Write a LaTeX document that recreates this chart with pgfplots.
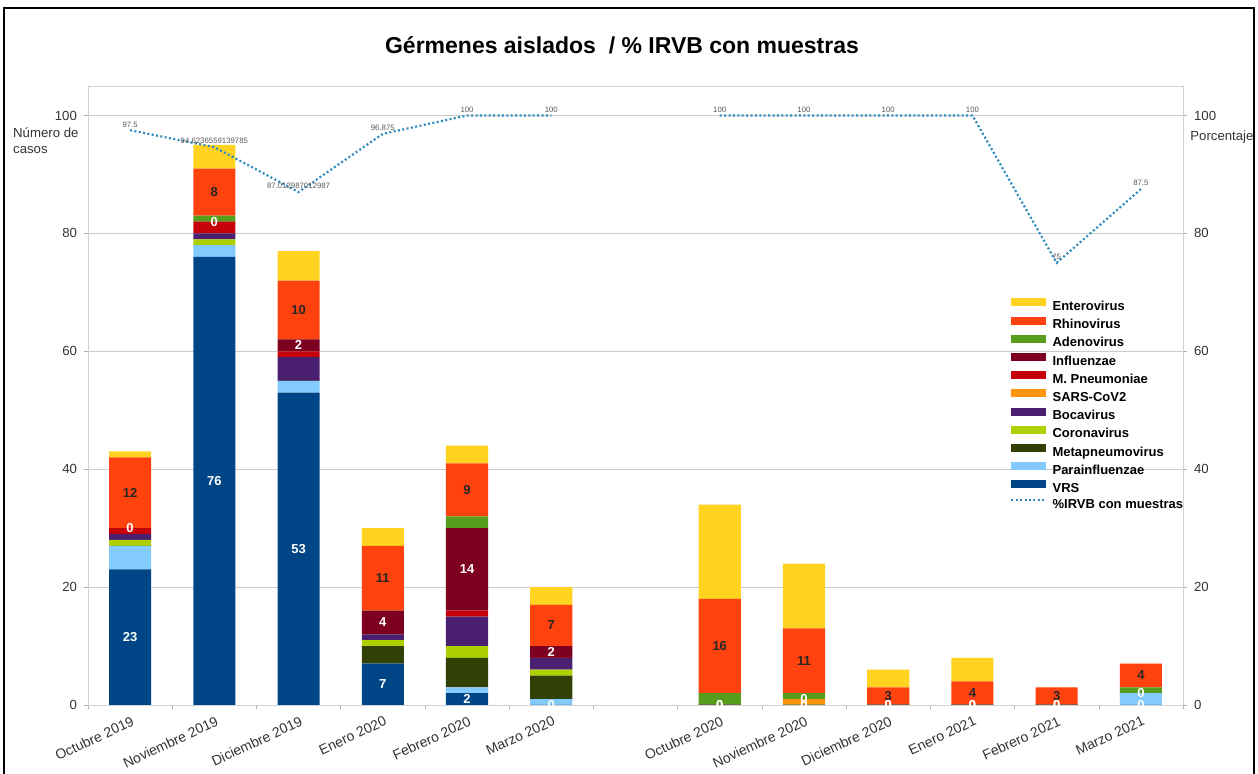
\documentclass[border=0pt]{standalone}
\usepackage{fontspec}
\setmainfont{Liberation Sans}
\usepackage{pgfplots}
\usepackage{pgfplotstable}
\pgfplotsset{compat=1.18}

% LibreOffice default palette
\definecolor{cVRS}{HTML}{004586}
\definecolor{cPara}{HTML}{83CAFF}
\definecolor{cMeta}{HTML}{314004}
\definecolor{cCor}{HTML}{AECF00}
\definecolor{cBoca}{HTML}{4B1F6F}
\definecolor{cSARS}{HTML}{FF950E}
\definecolor{cMP}{HTML}{C5000B}
\definecolor{cInfl}{HTML}{7E0021}
\definecolor{cAden}{HTML}{579D1C}
\definecolor{cRhin}{HTML}{FF420E}
\definecolor{cEnt}{HTML}{FFD320}
\definecolor{cLine}{HTML}{2E8BC0}

\pgfplotstableread{
x  VRS Para Meta Cor Boca SARS MP Infl Aden Rhin Ent
0  23  4    0    1   1    0    1  0    0    12   1
1  76  2    0    1   1    0    2  0    1    8    4
2  53  2    0    0   4    0    1  2    0    10   5
3  7   0    3    1   1    0    0  4    0    11   3
4  2   1    5    2   5    0    1  14   2    9    3
5  0   1    4    1   2    0    0  2    0    7    3
7  0   0    0    0   0    0    0  0    2    16   16
8  0   0    0    0   0    1    0  0    1    11   11
9  0   0    0    0   0    0    0  0    0    3    3
10 0   0    0    0   0    0    0  0    0    4    4
11 0   0    0    0   0    0    0  0    0    3    0
12 0   2    0    0   0    0    0  0    1    4    0
}\germenes

\pgfplotstableread{
x  y                 lab
0  97.5              97.5
1  94.6236559139785  94.6236559139785
2  87.012987012987   87.012987012987
3  96.875            96.875
4  100               100
5  100               100
6  nan               -
7  100               100
8  100               100
9  100               100
10 100               100
11 75                75
12 87.5              87.5
}\irvb

% stacked nodes near coords sit in the middle of each segment
\pgfplotsset{
  lbl/.style 2 args={
    nodes near coords,
    point meta=\thisrow{#1},
    every node near coord/.append style={anchor=center, inner sep=0pt,
      text=#2, font=\bfseries\fontsize{6.5}{7}\selectfont},
  },
  sq/.style={legend image code/.code={\fill[##1, draw=none] (0pt,0.3pt) rectangle (17.5pt,4.3pt);}},
  irvbleg/.style={legend image code/.code={\draw[##1] (0pt,2.3pt) -- (17.5pt,2.3pt);}},
  irvbline/.style={color=cLine, line width=1.1pt, dash pattern=on 1pt off 1.2pt},
  common/.style={
    at={(0pt,0pt)}, anchor=south west,
    scale only axis, width=547.5pt, height=309.5pt,
    xmin=-0.5, xmax=12.5, ymin=0, ymax=105,
    enlargelimits=false,
    ytick={0,20,...,100},
    tick align=outside,
    major tick length=2pt,
    tick style={gray!60},
    axis line style={gray!35},
    yticklabel style={font=\fontsize{6.6}{8}\selectfont, text=black!80},
    /pgf/number format/assume math mode=true,
  },
}

\begin{document}
\begin{tikzpicture}
\useasboundingbox (-44pt,-34.5pt) rectangle (585pt,352.5pt);
\clip (-44pt,-34.5pt) rectangle (585pt,352.5pt);

\begin{axis}[
  common,
  ybar stacked, bar width=0.5,
  stacked ignores zero=false,
  xtick={0,...,12},
  xticklabels={Octubre 2019, Noviembre 2019, Diciembre 2019, Enero 2020,
    Febrero 2020, Marzo 2020, {}, Octubre 2020, Noviembre 2020,
    Diciembre 2020, Enero 2021, Febrero 2021, Marzo 2021},
  major x tick style={draw=none},
  minor xtick={-0.5,0.5,...,12.5},
  minor tick length=2.2pt,
  xtick pos=bottom, ytick pos=left,
  ymajorgrids, grid style={gray!40},
  xticklabel style={rotate=25, anchor=north east, inner sep=1pt,
    yshift=-2pt, font=\fontsize{7}{8}\selectfont, text=black!80},
]
\addplot[fill=cVRS,  draw=none, lbl={VRS}{white}] table[x=x, y=VRS]{\germenes};
\addplot[fill=cPara, draw=none] table[x=x, y=Para]{\germenes};
\addplot[fill=cMeta, draw=none] table[x=x, y=Meta]{\germenes};
\addplot[fill=cCor,  draw=none] table[x=x, y=Cor]{\germenes};
\addplot[fill=cBoca, draw=none] table[x=x, y=Boca]{\germenes};
\addplot[fill=cSARS, draw=none] table[x=x, y=SARS]{\germenes};
\addplot[fill=cMP,   draw=none] table[x=x, y=MP]{\germenes};
\addplot[fill=cInfl, draw=none, lbl={Infl}{white}] table[x=x, y=Infl]{\germenes};
\addplot[fill=cAden, draw=none] table[x=x, y=Aden]{\germenes};
\addplot[fill=cRhin, draw=none, lbl={Rhin}{black!85}] table[x=x, y=Rhin]{\germenes};
\addplot[fill=cEnt,  draw=none] table[x=x, y=Ent]{\germenes};
\end{axis}

\begin{axis}[
  common,
  axis x line=none, axis y line*=right,
  unbounded coords=jump,
  irvbleg,
  legend cell align=left,
  legend style={at={(0.842,0.6575)}, anchor=north west, draw=none, fill=none,
    inner sep=0pt, row sep=1.6pt,
    font=\bfseries\fontsize{6.5}{7.5}\selectfont,
    nodes={inner sep=0pt, text height=5pt, text depth=1.4pt},
    /tikz/every odd column/.append style={column sep=2.5pt}},
]
\addlegendimage{sq, fill=cEnt}
\addlegendimage{sq, fill=cRhin}
\addlegendimage{sq, fill=cAden}
\addlegendimage{sq, fill=cInfl}
\addlegendimage{sq, fill=cMP}
\addlegendimage{sq, fill=cSARS}
\addlegendimage{sq, fill=cBoca}
\addlegendimage{sq, fill=cCor}
\addlegendimage{sq, fill=cMeta}
\addlegendimage{sq, fill=cPara}
\addlegendimage{sq, fill=cVRS}
\addplot[irvbline, nodes near coords, point meta=explicit symbolic,
  every node near coord/.append style={anchor=south, inner sep=1pt,
    text=black!65, font=\fontsize{3.9}{4.5}\selectfont}]
  table[x=x, y=y, meta=lab]{\irvb};
\legend{Enterovirus, Rhinovirus, Adenovirus, Influenzae, M. Pneumoniae,
  SARS-CoV2, Bocavirus, Coronavirus, Metapneumovirus, Parainfluenzae, VRS,
  \%IRVB con muestras}
\end{axis}

\node[font=\bfseries\fontsize{11.5}{13}\selectfont] at (267pt,330pt)
  {Gérmenes aislados~~/ \% IRVB con muestras};
\node[anchor=north west, align=left, inner sep=0pt,
  font=\fontsize{6.6}{8}\selectfont, text=black!80] at (-37.6pt,289pt)
  {Número de\\casos};
\node[anchor=west, inner sep=0pt, font=\fontsize{6.6}{8}\selectfont,
  text=black!80] at (551pt,284pt) {Porcentaje};
\draw[line width=1.3pt] (-42pt,-40pt) -- (-42pt,348.5pt) -- (583pt,348.5pt)
  -- (583pt,-40pt);
\end{tikzpicture}
\end{document}
